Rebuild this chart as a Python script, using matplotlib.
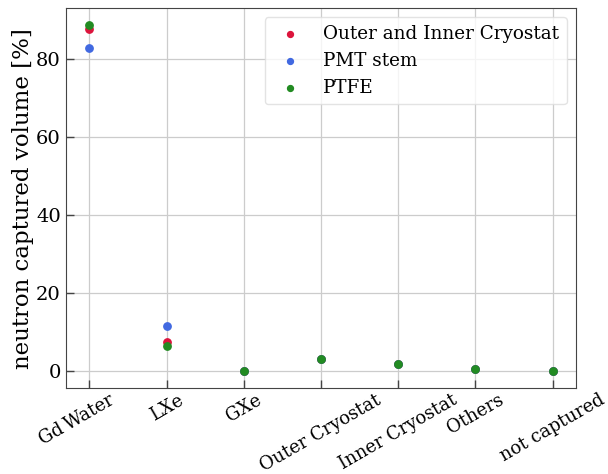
import matplotlib
matplotlib.use("Agg")
import matplotlib.pyplot as plt
import matplotlib.transforms as mtransforms
import numpy as np

categories = ["Gd\u2009Water", "LXe", "GXe", "Outer Cryostat", "Inner Cryostat", "Others", "not captured"]
cryostat = [87.8, 7.4, 0.05, 3.0, 1.7, 0.4, 0.0]
pmt_stem = [83.0, 11.6, 0.05, 3.0, 1.7, 0.4, 0.0]
ptfe = [88.7, 6.5, 0.05, 3.0, 1.7, 0.4, 0.0]

plt.rcParams['font.family'] = ['DejaVu Serif', 'DejaVu Sans']

fig = plt.figure(figsize=(6.08, 4.74), dpi=100)
ax = fig.add_axes([0.109, 0.181, 0.838, 0.802])

x = np.arange(len(categories))
ax.scatter(x, cryostat, s=28, color='crimson', label='Outer and Inner Cryostat', zorder=3)
ax.scatter(x, pmt_stem, s=28, color='royalblue', label='PMT stem', zorder=3)
ax.scatter(x, ptfe, s=28, color='forestgreen', label='PTFE', zorder=3)

ax.set_xticks(x)
ax.set_xticklabels(categories, rotation=30, ha='center', fontsize=13)
ax.set_yticks([0, 20, 40, 60, 80])
ax.tick_params(axis='y', labelsize=14, pad=4)
ax.tick_params(axis='x', pad=2)
ax.tick_params(direction='in', length=6, width=1, colors='#444444', labelcolor='black')
ax.set_xlim(-0.3, 6.3)
ax.set_ylabel('neutron captured volume [%]', fontsize=16.5, labelpad=1.5)
ax.grid(True, color='#cccccc', linewidth=0.9)
ax.set_axisbelow(True)
for s in ax.spines.values():
    s.set_color('#444444')
leg = ax.legend(loc='upper right', fontsize=13.2, markerscale=0.8, handletextpad=0.8,
                framealpha=0.8, edgecolor='#dddddd', labelspacing=0.5)

first = ax.get_xticklabels()[0]
first.set_transform(first.get_transform() + mtransforms.ScaledTranslation(-13 / 100, 0, fig.dpi_scale_trans))

fig.savefig('out.png', dpi=100)
